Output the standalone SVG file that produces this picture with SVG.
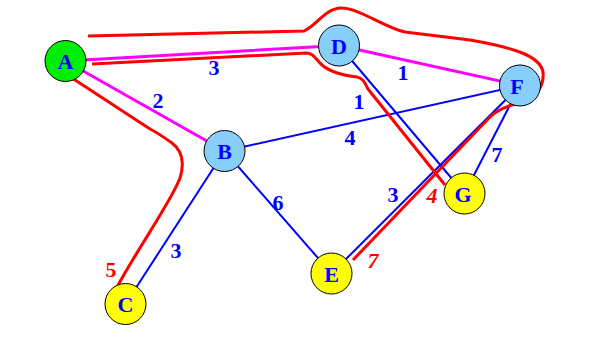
<svg xmlns="http://www.w3.org/2000/svg" width="607" height="342" viewBox="0 0 607 342">
<style>
.e{fill:none;stroke-linecap:round}
.m{stroke:#ff00ff;stroke-width:3}
.b{stroke:#0000ff;stroke-width:2}
.r{fill:none;stroke:#ff0000;stroke-width:3;stroke-linejoin:round}
.n{stroke:#000;stroke-width:1}
.g{fill:#00ee00}
.lb{fill:#87cefa}
.y{fill:#ffff00}
text{font-family:"Liberation Serif","Times New Roman",serif;font-weight:bold;font-size:22px;text-anchor:middle}
.t{fill:#0000ff}
.rt{fill:#ff0000}
.it{font-style:italic}
</style>
<rect width="607" height="342" fill="#fff"/>
<g id="connectors">
<line class="e m" x1="65.5" y1="61" x2="339" y2="45.5"/>
<line class="e m" x1="65.5" y1="61" x2="224.5" y2="151"/>
<line class="e m" x1="339" y1="45.5" x2="520" y2="85.5"/>
<line class="e b" x1="224.5" y1="151" x2="520" y2="85.5"/>
<line class="e b" x1="339" y1="45.5" x2="464.5" y2="193.5"/>
<line class="e b" x1="520" y1="85.5" x2="331.5" y2="273.5"/>
<line class="e b" x1="520" y1="85.5" x2="464.5" y2="193.5"/>
<line class="e b" x1="224.5" y1="151" x2="331.5" y2="273.5"/>
<line class="e b" x1="224.5" y1="151" x2="125.5" y2="304"/>
</g>
<g id="tour">
<path class="r" d="M117,287 C140,245 172,200 180,178 C184,165 184,152 172,143 C165,138 158,133 150,129 L72,78"/>
<path class="r" d="M92,64 L306,53 C314,53 316,60 322,65 C330,72 345,76 357,77 C363,78 365,83 368,89 L445,185"/>
<path class="r" d="M88,36 L304,31 C315,27 325,9 340,8 C358,7 385,28 405,32 L470,40 C510,47 540,55 543,72 C545,92 530,100 515,104 C505,107 497,110 490,117 L353,260"/>
</g>
<g id="labels">
<text class="t" x="214" y="75">3</text>
<text class="t" x="158" y="108">2</text>
<text class="t" x="403" y="80">1</text>
<text class="t" x="359" y="109">1</text>
<text class="t" x="350" y="145">4</text>
<text class="t" x="278" y="210">6</text>
<text class="t" x="176" y="258">3</text>
<text class="t" x="393" y="202">3</text>
<text class="t" x="497" y="162">7</text>
<text class="rt" x="111" y="277">5</text>
<text class="rt it" x="432" y="203">4</text>
<text class="rt it" x="373" y="268">7</text>
</g>
<g id="node-A"><circle class="n g" cx="65.5" cy="61" r="20.5"/><text class="t" x="65.5" y="69">A</text></g>
<g id="node-B"><circle class="n lb" cx="224.5" cy="151" r="20.5"/><text class="t" x="224.5" y="159">B</text></g>
<g id="node-C"><circle class="n y" cx="125.5" cy="304" r="20.5"/><text class="t" x="125.5" y="312">C</text></g>
<g id="node-D"><circle class="n lb" cx="339" cy="45.5" r="20.5"/><text class="t" x="339" y="53.5">D</text></g>
<g id="node-F"><circle class="n lb" cx="520" cy="85.5" r="20.5"/><text class="t" x="517" y="93.5">F</text></g>
<g id="node-G"><circle class="n y" cx="464.5" cy="193.5" r="20.5"/><text class="t" x="463" y="201.5">G</text></g>
<g id="node-E"><circle class="n y" cx="331.5" cy="273.5" r="20.5"/><text class="t" x="331.5" y="281.5">E</text></g>
</svg>
